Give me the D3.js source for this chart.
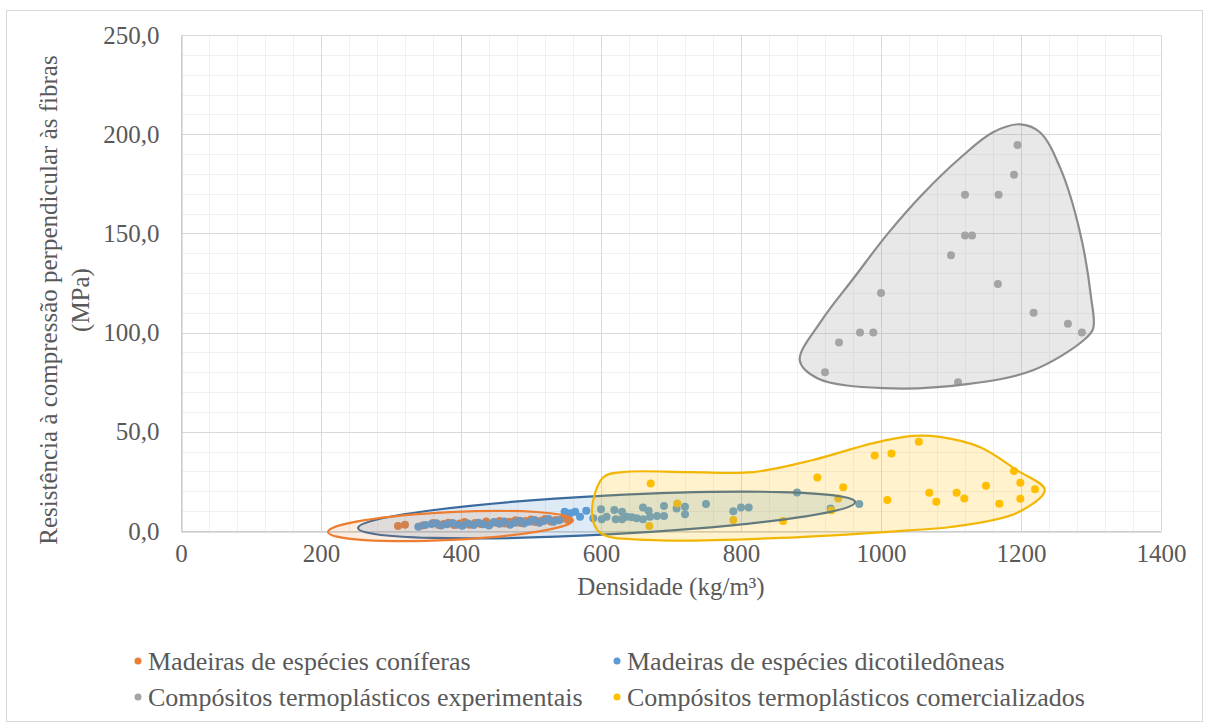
<!DOCTYPE html>
<html>
<head>
<meta charset="utf-8">
<script src="https://cdn.jsdelivr.net/npm/d3@7"></script>
<style>
    body { margin: 0; background: #fff; }
    text { font-family: "Liberation Serif", "Times New Roman", serif; fill: #595959; }
</style>
</head>
<body>
<div id="chart"></div>
<script>
'use strict';

// Madeiras de espécies coníferas
var coniferas = [
    [310, 2.5], [320, 3.2], [345, 2.8], [360, 4.0], [368, 3.0], [375, 3.5], [382, 4.2], [390, 3.0],
    [398, 3.8], [405, 4.5], [412, 3.2], [420, 4.0], [428, 3.5], [436, 4.8], [442, 3.6], [450, 4.2],
    [455, 5.0], [462, 3.8], [470, 4.6], [478, 5.4], [485, 4.0], [492, 5.0], [500, 5.8], [506, 4.5],
    [514, 5.2], [520, 6.0], [528, 4.8], [535, 5.6], [545, 6.2], [553, 5.5]
];

// Madeiras de espécies dicotiledôneas
var dicotiledoneas = [
    [339, 2.2], [349, 3.0], [358, 3.5], [365, 3.9], [372, 2.8], [380, 3.4], [388, 4.0], [395, 3.2],
    [402, 2.6], [410, 3.8], [418, 3.0], [425, 4.2], [432, 3.4], [440, 2.8], [447, 4.5], [455, 3.6],
    [462, 4.8], [470, 3.2], [477, 4.2], [484, 5.2], [490, 3.8], [498, 4.6], [505, 5.5], [512, 4.2],
    [518, 5.0], [525, 6.0], [532, 4.6], [540, 5.4], [548, 9.7], [556, 9.0], [563, 9.7], [570, 7.2],
    [579, 10.2], [589, 6.4], [600, 10.9], [601, 5.9], [608, 7.2], [619, 10.6], [621, 5.9], [630, 9.7],
    [630, 5.9], [637, 7.2], [644, 6.9], [651, 6.4], [660, 11.9], [660, 5.9], [668, 10.2], [670, 7.2],
    [680, 7.5], [690, 12.6], [690, 7.5], [708, 11.4], [720, 12.2], [720, 8.4], [750, 13.6], [789, 10.0],
    [800, 11.9], [811, 11.9], [880, 19.4], [928, 11.4], [969, 13.6]
];

// Compósitos termoplásticos experimentais
var experimentais = [
    [1195, 194.5], [1190, 179.5], [1120, 169.5], [1168, 169.5], [1120, 149], [1130, 149], [1100, 139],
    [1167, 124.5], [1000, 120], [1218, 110], [1267, 104.5], [1287, 100], [970, 100], [989, 100],
    [940, 95], [920, 80], [1110, 75]
];

// Compósitos termoplásticos comercializados
var comercializados = [
    [671, 24], [709, 13.9], [669, 2.5], [789, 5.5], [860, 5], [909, 27], [946, 22], [939, 16.4],
    [929, 10.5], [991, 38], [1015, 39], [1054, 45], [1069, 19.3], [1079, 14.7], [1009, 15.6],
    [1108, 19.3], [1119, 16.4], [1150, 22.8], [1169, 13.7], [1190, 30.2], [1199, 24.3], [1199, 16.2],
    [1220, 21.1]
];

// contornos desenhados à mão sobre o gráfico
var elipseConiferas = [[210, -0.5], [560, 5.5], 7];
var elipseDicotiledoneas = [[253, 1.5], [963, 14.6], 9.8];
var contornoExperimentais = [
    [884, 86], [915, 106], [960, 127], [1010, 150], [1060, 170], [1113, 188], [1160, 201], [1199, 205],
    [1227, 201], [1256, 183], [1284, 151], [1300, 118], [1303, 102], [1289, 96], [1217, 81], [1123, 74],
    [1003, 72], [909, 77]
];
var contornoComercializados = [
    [587, 9], [603, 27], [631, 29.7], [727, 29.7], [817, 29.7], [903, 35.8], [989, 44.3], [1046, 47.9],
    [1084, 47.4], [1141, 42.3], [1194, 30.7], [1234, 20.7], [1194, 9.1], [1099, 2], [1046, 0.5],
    [856, -3.5], [666, -4.5], [599, -1]
];

var xTicks = [0, 200, 400, 600, 800, 1000, 1200, 1400];
var yTicks = [0, 50, 100, 150, 200, 250];

var series = [
    {name: "Madeiras de espécies coníferas", color: "#ED7D31", data: coniferas},
    {name: "Madeiras de espécies dicotiledôneas", color: "#5B9BD5", data: dicotiledoneas},
    {name: "Compósitos termoplásticos experimentais", color: "#A5A5A5", data: experimentais},
    {name: "Compósitos termoplásticos comercializados", color: "#FFC000", data: comercializados}
];

var WIDTH = 1208,
    HEIGHT = 726,
    MARGIN = {TOP: 35, RIGHT: 47, BOTTOM: 195, LEFT: 181},
    FONT = 26;

var svg = d3.select("#chart").append("svg")
    .attr("width", WIDTH)
    .attr("height", HEIGHT);

svg.append("rect")
    .attr("x", 6.5).attr("y", 10.5)
    .attr("width", 1196).attr("height", 711)
    .attr("fill", "#fff")
    .attr("stroke", "#D9D9D9");

var x = d3.scaleLinear().domain([0, 1400]).range([MARGIN.LEFT, WIDTH - MARGIN.RIGHT]);
var y = d3.scaleLinear().domain([0, 250]).range([HEIGHT - MARGIN.BOTTOM, MARGIN.TOP]);

var locale = d3.formatLocale({decimal: ",", thousands: ".", grouping: [3], currency: ["R$", ""]});
var fmtY = locale.format(".1f");

// grades secundárias (Excel: principal / 5)
var grid = svg.append("g").attr("id", "grid");
grid.selectAll(".minor-x")
    .data(d3.range(0, 1401, 40))
    .enter().append("line")
    .attr("x1", function (d) { return Math.round(x(d)) + 0.5; })
    .attr("x2", function (d) { return Math.round(x(d)) + 0.5; })
    .attr("y1", y(0)).attr("y2", y(250))
    .attr("stroke", "#F0F0F0");
grid.selectAll(".minor-y")
    .data(d3.range(0, 251, 10))
    .enter().append("line")
    .attr("y1", function (d) { return Math.round(y(d)) + 0.5; })
    .attr("y2", function (d) { return Math.round(y(d)) + 0.5; })
    .attr("x1", x(0)).attr("x2", x(1400))
    .attr("stroke", "#F0F0F0");
grid.selectAll(".major-x")
    .data(xTicks)
    .enter().append("line")
    .attr("x1", function (d) { return Math.round(x(d)) + 0.5; })
    .attr("x2", function (d) { return Math.round(x(d)) + 0.5; })
    .attr("y1", y(0)).attr("y2", y(250))
    .attr("stroke", "#D9D9D9");
grid.selectAll(".major-y")
    .data(yTicks)
    .enter().append("line")
    .attr("y1", function (d) { return Math.round(y(d)) + 0.5; })
    .attr("y2", function (d) { return Math.round(y(d)) + 0.5; })
    .attr("x1", x(0)).attr("x2", x(1400))
    .attr("stroke", "#D9D9D9");

// eixos
var xAxis = svg.append("g")
    .attr("transform", "translate(0," + (Math.round(y(0)) + 0.5) + ")")
    .call(d3.axisBottom(x).tickValues(xTicks).tickSize(0).tickPadding(13).tickFormat(d3.format("d")));
var yAxis = svg.append("g")
    .attr("transform", "translate(" + (Math.round(x(0)) + 0.5) + ",0)")
    .call(d3.axisLeft(y).tickValues(yTicks).tickSize(0).tickPadding(22).tickFormat(fmtY));
[xAxis, yAxis].forEach(function (a) {
    a.select(".domain").attr("stroke", "#BFBFBF");
    a.selectAll("text")
        .attr("font-family", "Liberation Serif")
        .attr("font-size", 25)
        .attr("fill", "#595959");
});

// pontos
var pts = svg.append("g").attr("id", "points");
series.forEach(function (s) {
    pts.selectAll(null)
        .data(s.data)
        .enter().append("circle")
        .attr("cx", function (d) { return x(d[0]); })
        .attr("cy", function (d) { return y(d[1]); })
        .attr("r", 4)
        .attr("fill", s.color);
});

// contornos
var shapes = svg.append("g").attr("id", "shapes");

function drawEllipse(e, stroke, fill, opacity) {
    var x1 = x(e[0][0]), y1 = y(e[0][1]), x2 = x(e[1][0]), y2 = y(e[1][1]);
    var cx = (x1 + x2) / 2, cy = (y1 + y2) / 2;
    var ang = Math.atan2(y2 - y1, x2 - x1) * 180 / Math.PI;
    shapes.append("ellipse")
        .attr("cx", cx).attr("cy", cy)
        .attr("rx", Math.hypot(x2 - x1, y2 - y1) / 2)
        .attr("ry", y(0) - y(e[2]))
        .attr("transform", "rotate(" + ang + "," + cx + "," + cy + ")")
        .attr("fill", fill).attr("fill-opacity", opacity)
        .attr("stroke", stroke).attr("stroke-width", 2.2);
}

var outline = d3.line()
    .x(function (d) { return x(d[0]); })
    .y(function (d) { return y(d[1]); })
    .curve(d3.curveCatmullRomClosed.alpha(0.5));

drawEllipse(elipseDicotiledoneas, "#3B6A9C", "#5B9BD5", 0.2);
drawEllipse(elipseConiferas, "#ED7D31", "#ED7D31", 0.14);

shapes.append("path")
    .attr("d", outline(contornoComercializados))
    .attr("fill", "#FFC000").attr("fill-opacity", 0.2)
    .attr("stroke", "#F2B705").attr("stroke-width", 2.2);

shapes.append("path")
    .attr("d", outline(contornoExperimentais))
    .attr("fill", "#A5A5A5").attr("fill-opacity", 0.25)
    .attr("stroke", "#8C8C8C").attr("stroke-width", 2.2);

// títulos dos eixos
svg.append("text")
    .attr("x", (x(0) + x(1400)) / 2)
    .attr("y", 595)
    .attr("text-anchor", "middle")
    .attr("font-size", 25)
    .text("Densidade (kg/m³)");

var yTitle = svg.append("text")
    .attr("transform", "translate(57,300) rotate(-90)")
    .attr("text-anchor", "middle")
    .attr("font-size", 25);
yTitle.append("tspan").attr("x", 0).attr("y", 0).text("Resistência à compressão perpendicular às fibras");
yTitle.append("tspan").attr("x", 0).attr("y", 32).text("(MPa)");

// legenda
var LEGEND_X = [138, 617],
    LEGEND_Y = [661, 697];
var legend = svg.append("g").attr("id", "legend");
series.forEach(function (s, i) {
    var lx = LEGEND_X[i % 2], ly = LEGEND_Y[Math.floor(i / 2)];
    legend.append("circle")
        .attr("cx", lx).attr("cy", ly)
        .attr("r", 3.5)
        .attr("fill", s.color);
    legend.append("text")
        .attr("x", lx + 10).attr("y", ly)
        .attr("dy", "0.33em")
        .attr("font-size", FONT)
        .text(s.name);
});
</script>
</body>
</html>
